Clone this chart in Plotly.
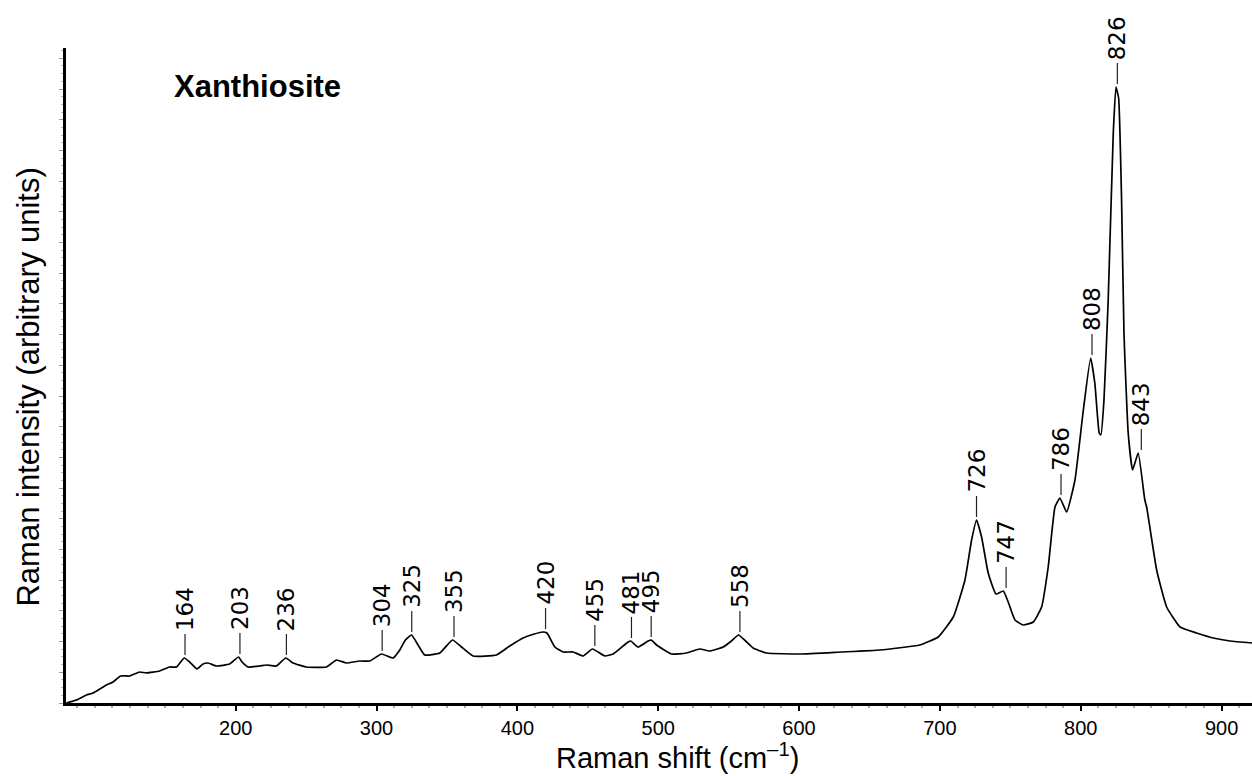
import numpy as np
import plotly.graph_objects as go

# Raman spectrum of xanthiosite (arbitrary units)
shift = [79.8, 86.9, 94, 98.6, 108.2, 112.9, 118.3, 124.7, 131.8, 136.6, 146, 153, 157.9,
         163.5, 167.3, 172.5, 176.8, 180.3, 186.3, 195.7, 202, 204.5, 208.8, 217, 221.8,
         228.9, 235.5, 240.7, 250.2, 264.4, 271.5, 278.6, 288, 295.2, 303.5, 311.7, 316.5,
         320.5, 324.8, 329.5, 334.2, 344.9, 353.9, 360.3, 368.5, 385.1, 394.6, 404, 412,
         418, 421, 426.6, 432.5, 439.6, 446.7, 453.3, 462.1, 468, 478.6, 480.5, 485.7,
         492.8, 495, 498.8, 509.4, 520, 529.5, 536.6, 546.1, 552, 557, 562, 567.4, 576.9,
         600.6, 630, 657.4, 685.8, 698.8, 709.5, 717.8, 722.5, 726, 729.6, 734.3, 739.8,
         745, 748.5, 753.3, 759.2, 766.3, 772.2, 776.9, 781.7, 785.2, 790, 795.9, 801.6,
         807, 810, 813.1, 814.3, 816.5, 819.5, 823.1, 825, 826.9, 829, 830.7, 833.7, 836.8,
         840.8, 845.5, 846.8, 853.9, 861, 870.5, 882.3, 894.1, 906, 921.6]
intensity = [0, 3, 8, 10, 18, 21, 27, 27, 31, 30, 32, 36, 36,
             45, 41, 34, 39, 40, 37, 39, 46, 41, 36, 37, 38,
             37, 45, 40, 36, 36, 43, 40, 42, 42, 49, 45, 53,
             63, 68, 58, 48, 50, 63, 56, 47, 48, 57, 65, 69,
             71, 70, 56, 51, 51, 47, 54, 47, 49, 61, 62, 56,
             62, 63, 58, 49, 50, 54, 52, 56, 62, 68, 62, 55, 50,
             49, 51, 53, 58, 66, 86, 123, 163, 183, 166, 130, 109,
             112, 101, 83, 78, 81, 96, 136, 196, 205, 191, 223, 290,
             345, 320, 270, 268, 303, 403, 570, 616, 605, 503, 370, 270, 233,
             250, 203, 196, 133, 96, 76, 70, 65, 62, 60]

# labelled peak positions (cm-1)
peaks = [164, 203, 236, 304, 325, 355, 420, 455, 481, 495, 558, 726, 747, 786, 808, 826, 843]

x_ticks = [200, 300, 400, 500, 600, 700, 800, 900]
x_range = [79.5, 921.6]
y_range = [0, 655]

fig = go.Figure()
fig.add_trace(go.Scatter(x=shift, y=intensity, mode="lines",
                         line=dict(color="black", width=1.7, shape="spline", smoothing=0.4),
                         hoverinfo="skip", showlegend=False))

sx = np.array(shift, dtype=float)
sy = np.array(intensity, dtype=float)
annotations = []
shapes = []
for p in peaks:
    grid = np.linspace(p - 3, p + 3, 61)
    h = float(np.max(np.interp(grid, sx, sy)))
    shapes.append(dict(type="line", xref="x", yref="y", x0=p, x1=p,
                       ysizemode="pixel", yanchor=h, y0=3, y1=24,
                       line=dict(color="#222", width=1.2)))
    annotations.append(dict(x=p, y=h, xref="x", yref="y", text=str(p), showarrow=False,
                            textangle=-90, xanchor="center", yanchor="bottom", yshift=25,
                            font=dict(family="DejaVu Sans", size=23, color="black")))

annotations.append(dict(text="<b>Xanthiosite</b>", xref="paper", yref="paper",
                        x=0.0894, y=0.9405, xanchor="left", yanchor="middle", showarrow=False,
                        font=dict(family="Liberation Sans, Arial", size=31, color="black")))
annotations.append(dict(text="Raman shift (cm<sup>\u20131</sup>)", xref="paper", yref="paper",
                        x=0.516, y=-0.111, xanchor="center", yanchor="bottom", showarrow=False,
                        font=dict(family="Liberation Sans, Arial", size=29, color="black")))
annotations.append(dict(text="Raman intensity (arbitrary units)", xref="paper", yref="paper",
                        x=-0.032, y=0.4817, xanchor="center", yanchor="middle", showarrow=False,
                        textangle=-90,
                        font=dict(family="Liberation Sans, Arial", size=31, color="black")))

fig.update_layout(
    width=1252, height=776,
    margin=dict(l=66, r=0, t=48, b=73),
    paper_bgcolor="white", plot_bgcolor="white",
    annotations=annotations, shapes=shapes,
    xaxis=dict(range=x_range, tickvals=x_ticks, showline=True, linecolor="black", linewidth=3,
               ticks="outside", ticklen=5, tickwidth=2, tickcolor="black",
               tickfont=dict(family="Liberation Sans, Arial", size=20, color="black"),
               showgrid=False, zeroline=False,
               minor=dict(ticks="outside", dtick=12.5, tick0=0, ticklen=2, tickcolor="#aaa",
                          showgrid=False)),
    yaxis=dict(range=y_range, showticklabels=False, showline=True, linecolor="black",
               linewidth=3, ticks="outside", ticklen=4, tickwidth=1, tickcolor="#999",
               tick0=0, dtick=30.7, showgrid=False, zeroline=False,
               minor=dict(ticks="outside", dtick=7.675, ticklen=2, tickcolor="#bbb",
                          showgrid=False)),
)

fig.write_html("out.html")
